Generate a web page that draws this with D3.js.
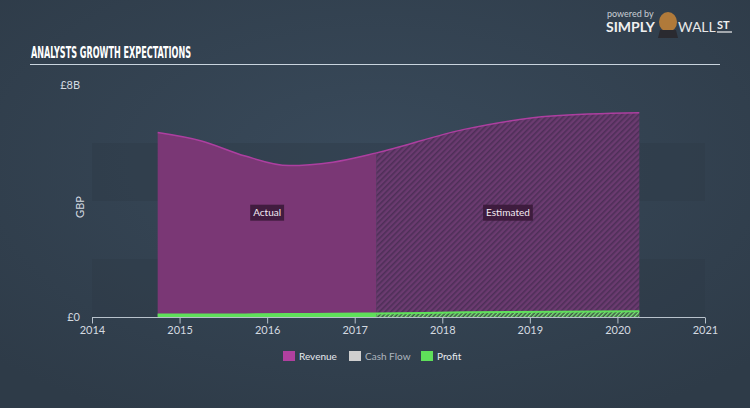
<!DOCTYPE html>
<html><head><meta charset="utf-8">
<script src="https://cdn.jsdelivr.net/npm/d3@7"></script>
<style>html,body{margin:0;padding:0;background:#344252;}svg{display:block;}</style>
</head><body>
<script>
const years = [2014, 2015, 2016, 2017, 2018, 2019, 2020, 2021];
const splitYear = 2017.25;
const revenueX = [2014.75, 2015.25, 2015.75, 2016.25, 2016.75, 2017.25, 2018.25, 2019.25, 2020.25];
const revenueY = [6.36, 6.07, 5.55, 5.22, 5.34, 5.66, 6.47, 6.93, 7.04];
const profitX  = [2014.75, 2015.25, 2015.75, 2016.25, 2016.75, 2017.25, 2018.25, 2019.25, 2020.25];
const profitY  = [0.09, 0.09, 0.09, 0.1, 0.11, 0.12, 0.16, 0.18, 0.2];
const cashFlowX = [];
const cashFlowY = [];
const legendNames = ["Revenue", "Cash Flow", "Profit"];
const legendColors = ["#b0409f", "#cfcfcf", "#5fe05a"];
const yTicks = [0, 8];
const yTickLabels = ["£0", "£8B"];

const W = 750, H = 408;
const svg = d3.select("body").append("svg").attr("width", W).attr("height", H);
const defs = svg.append("defs");
const rg = defs.append("radialGradient").attr("id","bg").attr("cx","50%").attr("cy","40%").attr("r","70%");
rg.append("stop").attr("offset","0%").attr("stop-color","#394a5b");
rg.append("stop").attr("offset","100%").attr("stop-color","#2e3b48");
svg.append("rect").attr("width",W).attr("height",H).attr("fill","url(#bg)");

const pr = defs.append("pattern").attr("id","hatchR").attr("patternUnits","userSpaceOnUse")
  .attr("width",4).attr("height",4).attr("patternTransform","rotate(45)");
pr.append("rect").attr("width",4).attr("height",4).attr("fill","#6b3b70");
pr.append("rect").attr("width",1.6).attr("height",4).attr("fill","#4e2f58");
const pg = defs.append("pattern").attr("id","hatchG").attr("patternUnits","userSpaceOnUse")
  .attr("width",3).attr("height",3).attr("patternTransform","rotate(45)");
pg.append("rect").attr("width",3).attr("height",3).attr("fill","#3d5a45");
pg.append("rect").attr("width",1.4).attr("height",3).attr("fill","#7de07a");

const x = d3.scaleLinear().domain([2014, 2021]).range([92, 705]);
const y = d3.scaleLinear().domain([0, 8]).range([317, 85]);

// background bands
const bands = [[6.0, 4.0], [2.0, 0]];
svg.selectAll("rect.band").data(bands).enter().append("rect")
  .attr("x", x(2014)).attr("width", x(2021)-x(2014))
  .attr("y", d=>y(d[0])).attr("height", d=>y(d[1])-y(d[0]))
  .attr("fill","#2d3946").attr("opacity",0.4);

// header
svg.append("text").attr("x",31).attr("y",58).text("ANALYSTS GROWTH EXPECTATIONS")
  .attr("font-family","'Liberation Sans Narrow','DejaVu Sans Condensed',sans-serif")
  .attr("font-weight","bold").attr("font-size",15.5).attr("fill","#ffffff")
  .attr("transform","translate(31,58) scale(0.58,1) translate(-31,-58)");
svg.append("line").attr("x1",30).attr("x2",720).attr("y1",64.5).attr("y2",64.5)
  .attr("stroke","#c9d4de").attr("stroke-width",1.2);

// logo
svg.append("text").attr("x",607).attr("y",17).text("powered by")
  .attr("font-family","Lato,sans-serif").attr("font-size",9).attr("fill","#c8ced4");
svg.append("text").attr("x",606).attr("y",32).text("SIMPLY")
  .attr("font-family","Lato,sans-serif").attr("font-weight","bold").attr("font-size",14).attr("fill","#f0f0f0");
svg.append("ellipse").attr("cx",668).attr("cy",22).attr("rx",9).attr("ry",10).attr("fill","#b07a3a");
svg.append("path").attr("d","M660,30 L676,30 L678,38 L658,38 Z").attr("fill","#2a2a30");
svg.append("text").attr("x",678).attr("y",32).text("WALL")
  .attr("font-family","Lato,sans-serif").attr("font-size",14).attr("fill","#e8e8e8");
svg.append("text").attr("x",717).attr("y",29).text("ST")
  .attr("font-family","Lato,sans-serif").attr("font-weight","bold").attr("font-size",11).attr("fill","#f0f0f0");
svg.append("line").attr("x1",717).attr("x2",732).attr("y1",32).attr("y2",32).attr("stroke","#f0f0f0").attr("stroke-width",1.2);

// data
const rev = revenueX.map((v,i)=>({x:v, y:revenueY[i]}));
const prof = profitX.map((v,i)=>({x:v, y:profitY[i]}));
const curve = d3.curveMonotoneX;
const area = d3.area().x(d=>x(d.x)).y0(y(0)).y1(d=>y(d.y)).curve(curve);
const line = d3.line().x(d=>x(d.x)).y(d=>y(d.y)).curve(curve);

defs.append("clipPath").attr("id","clipA").append("rect")
  .attr("x",0).attr("y",0).attr("width",x(splitYear)).attr("height",H);
defs.append("clipPath").attr("id","clipE").append("rect")
  .attr("x",x(splitYear)).attr("y",0).attr("width",W).attr("height",H);

svg.append("path").datum(rev).attr("d",area).attr("fill","#7a3775").attr("clip-path","url(#clipA)");
svg.append("path").datum(rev).attr("d",area).attr("fill","url(#hatchR)").attr("clip-path","url(#clipE)");
svg.append("path").datum(rev).attr("d",line).attr("fill","none").attr("stroke","#ad3fa0").attr("stroke-width",1.5);

svg.append("path").datum(prof).attr("d",area).attr("fill","#5fe05a").attr("clip-path","url(#clipA)");
svg.append("path").datum(prof).attr("d",area).attr("fill","url(#hatchG)").attr("clip-path","url(#clipE)");
svg.append("path").datum(prof).attr("d",line).attr("fill","none").attr("stroke","#5fe05a").attr("stroke-width",2);

// axis
const ax = svg.append("g").attr("transform",`translate(0,${y(0)+0.5})`)
  .call(d3.axisBottom(x).tickValues(years).tickFormat(d3.format("d")).tickSize(6).tickPadding(3));
ax.select(".domain").attr("stroke","#b8c2cc").attr("d",`M${x(2014)},0H${x(2021)}`);
ax.selectAll(".tick line").attr("stroke","#b8c2cc");
ax.selectAll(".tick text").attr("fill","#d4dae0").attr("font-family","Lato,sans-serif").attr("font-size",11);

// y labels
svg.selectAll("text.ylab").data(yTicks).enter().append("text")
  .attr("x",80).attr("y",d=>y(d)).attr("dy","0.35em").attr("text-anchor","end")
  .text((d,i)=>yTickLabels[i]).attr("font-family","Lato,sans-serif").attr("font-size",11).attr("fill","#d4dae0");
svg.append("text").attr("transform","translate(84,207) rotate(-90)").attr("text-anchor","middle")
  .text("GBP").attr("font-family","Lato,sans-serif").attr("font-size",11).attr("fill","#d4dae0");

// labels
function tag(label, cx){
  const g = svg.append("g");
  const t = g.append("text").attr("x",cx).attr("y",212.7).attr("dy","0.35em").attr("text-anchor","middle")
    .text(label).attr("font-family","Lato,sans-serif").attr("font-size",10).attr("fill","#f2eaf2");
  const b = t.node().getBBox();
  g.insert("rect","text").attr("x",b.x-3).attr("y",204.7).attr("width",b.width+6).attr("height",16)
    .attr("fill","#3b1a3a").attr("opacity",0.9);
}
tag("Actual", (x(2014.75)+x(splitYear))/2);
tag("Estimated", (x(splitYear)+x(2020.25))/2);

// legend
const lx = [283, 349, 421];
const lg = svg.selectAll("g.leg").data(legendNames).enter().append("g");
lg.append("rect").attr("x",(d,i)=>lx[i]).attr("y",351).attr("width",12).attr("height",10)
  .attr("fill",(d,i)=>legendColors[i]);
lg.append("text").attr("x",(d,i)=>lx[i]+16).attr("y",356).attr("dy","0.35em").text(d=>d)
  .attr("font-family","Lato,sans-serif").attr("font-size",10)
  .attr("fill",(d,i)=> i===1 ? "#aeb6be" : "#e6eaee");
</script>
</body></html>
